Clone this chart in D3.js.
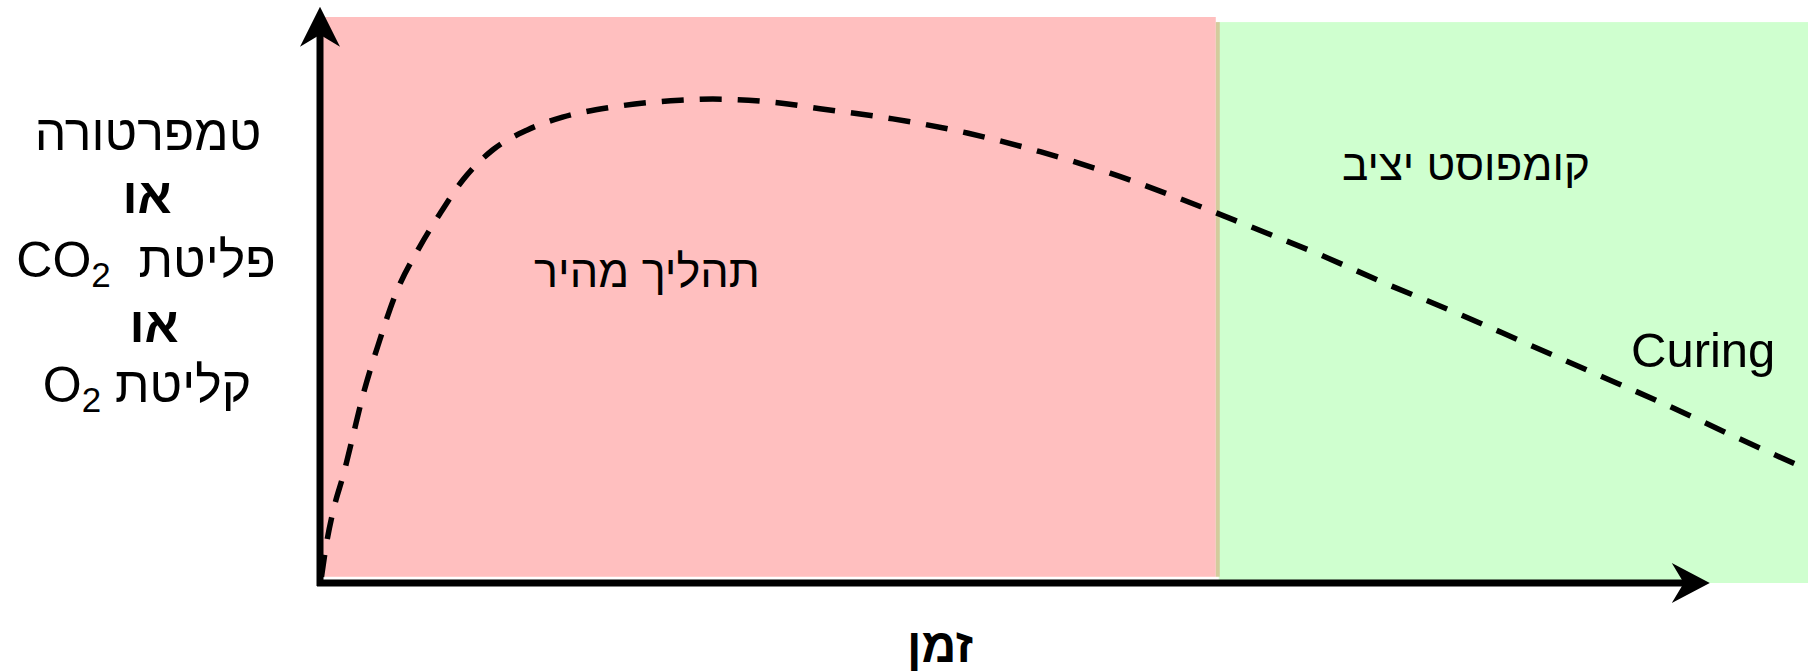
<!DOCTYPE html>
<html>
<head>
<meta charset="utf-8">
<script src="https://cdn.jsdelivr.net/npm/d3@7"></script>
<style>
  body { margin: 0; background: #fff; }
  svg { display: block; }
  text { font-family: "Liberation Sans", Arial, sans-serif; fill: #000; }
</style>
</head>
<body>
<div id="chart"></div>
<script>
// curve (time, level), both on a 0..100 scale
const curveTime = [0.1, 0.4, 0.9, 1.6, 2.2, 2.8, 4.0, 5.0, 6.7, 8.1, 9.6, 11.6, 13.9, 16.3,
  19.7, 24.2, 26.4, 30.9, 33.6, 38.5, 43.5, 48.4, 53.1, 57.9, 62.5, 67.2, 71.8, 76.4,
  81.0, 85.6, 90.2, 94.8, 100];
const curveLevel = [1.1, 6.4, 12.9, 19.4, 25.8, 32.3, 42.8, 50.5, 59.4, 65.4, 71.2, 76.5,
  80.0, 82.3, 84.1, 85.3, 85.5, 84.8, 83.8, 82.0, 79.5, 76.2, 72.4, 67.8, 63.0, 58.0,
  52.7, 47.7, 42.4, 37.1, 31.8, 26.2, 20.0];

// the two phases drawn as background bands
const phaseNames = ["תהליך מהיר", "קומפוסט יציב"];
const phaseFrom = [0.2, 60.4];
const phaseTo = [60.2, 100];
const phaseTop = [100, 99.1];
const phaseBottom = [1.1, 0];
const phaseColors = ["#ffbfbf", "#cfffcf"];

const curingLabel = "Curing";
const xTitle = "זמן";

const width = 1819;
const height = 672;

const x = d3.scaleLinear().domain([0, 100]).range([320, 1808]);
const y = d3.scaleLinear().domain([0, 100]).range([583, 17]);

const svg = d3.select("#chart")
  .append("svg")
  .attr("width", width)
  .attr("height", height)
  .attr("viewBox", `0 0 ${width} ${height}`);

// phase bands
const phases = phaseNames.map((name, i) => ({
  name, from: phaseFrom[i], to: phaseTo[i], top: phaseTop[i], bottom: phaseBottom[i], color: phaseColors[i]
}));

svg.append("g")
  .selectAll("rect")
  .data(phases)
  .join("rect")
  .attr("x", (d) => x(d.from))
  .attr("y", (d) => y(d.top))
  .attr("width", (d) => x(d.to) - x(d.from))
  .attr("height", (d) => y(d.bottom) - y(d.top))
  .attr("fill", (d) => d.color);

// thin seam where the two bands meet
svg.append("rect")
  .attr("x", x(phaseTo[0]))
  .attr("y", y(phaseTop[1]))
  .attr("width", x(phaseFrom[1]) - x(phaseTo[0]) + 1)
  .attr("height", y(phaseBottom[0]) - y(phaseTop[1]))
  .attr("fill", "#d3cb9c");

// phase labels
svg.append("text")
  .attr("x", 647)
  .attr("y", 287)
  .attr("text-anchor", "middle")
  .attr("font-size", 45)
  .text(phaseNames[0]);

svg.append("text")
  .attr("x", 1466)
  .attr("y", 180)
  .attr("text-anchor", "middle")
  .attr("font-size", 44)
  .text(phaseNames[1]);

svg.append("text")
  .attr("x", 1631)
  .attr("y", 367)
  .attr("font-size", 49)
  .text(curingLabel);

// dashed curve
const points = curveTime.map((t, i) => ({ t, v: curveLevel[i] }));
const line = d3.line()
  .x((d) => x(d.t))
  .y((d) => y(d.v))
  .curve(d3.curveMonotoneX);

svg.append("path")
  .datum(points)
  .attr("d", line)
  .attr("fill", "none")
  .attr("stroke", "#000")
  .attr("stroke-width", 5.5)
  .attr("stroke-dasharray", "22 16");

// axes with arrow heads
const x0 = x(0), y0 = y(0);
const yTip = y(101.8);
const xTip = x(93.4);

svg.append("line")
  .attr("x1", x0).attr("y1", y0 + 3)
  .attr("x2", x0).attr("y2", yTip + 20)
  .attr("stroke", "#000").attr("stroke-width", 7);
svg.append("line")
  .attr("x1", x0 - 3).attr("y1", y0)
  .attr("x2", xTip - 20).attr("y2", y0)
  .attr("stroke", "#000").attr("stroke-width", 7);

svg.append("path")
  .attr("d", `M${x0},${yTip} L${x0 + 20},${yTip + 40} L${x0},${yTip + 28} L${x0 - 20},${yTip + 40} Z`)
  .attr("fill", "#000");
svg.append("path")
  .attr("d", `M${xTip},${y0} L${xTip - 38},${y0 - 20} L${xTip - 26},${y0} L${xTip - 38},${y0 + 20} Z`)
  .attr("fill", "#000");

// x title
svg.append("text")
  .attr("x", 940)
  .attr("y", 662)
  .attr("text-anchor", "middle")
  .attr("font-size", 48)
  .attr("font-weight", "bold")
  .text(xTitle);

// y title, five lines
const yTitle = svg.append("g").attr("font-size", 50);

yTitle.append("text")
  .attr("x", 148).attr("y", 150)
  .attr("text-anchor", "middle")
  .text("טמפרטורה");

yTitle.append("text")
  .attr("x", 147).attr("y", 213)
  .attr("text-anchor", "middle")
  .attr("font-weight", "bold")
  .text("או");

const co2 = yTitle.append("text")
  .attr("x", 146).attr("y", 277)
  .attr("text-anchor", "middle");
co2.append("tspan").text("CO");
co2.append("tspan").attr("font-size", 35).attr("dy", 10).text("2");
co2.append("tspan").attr("dy", -10).text("\u00a0\u00a0פליטת");

yTitle.append("text")
  .attr("x", 154).attr("y", 342)
  .attr("text-anchor", "middle")
  .attr("font-weight", "bold")
  .text("או");

const o2 = yTitle.append("text")
  .attr("x", 147).attr("y", 402)
  .attr("text-anchor", "middle");
o2.append("tspan").text("O");
o2.append("tspan").attr("font-size", 35).attr("dy", 10).text("2");
o2.append("tspan").attr("dy", -10).text("\u00a0קליטת");
</script>
</body>
</html>
